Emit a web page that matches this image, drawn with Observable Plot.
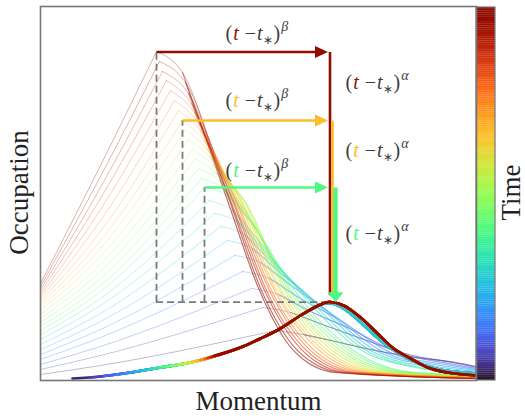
<!DOCTYPE html>
<html><head><meta charset="utf-8">
<script src="https://cdn.jsdelivr.net/npm/d3@7"></script>
<script src="https://cdn.jsdelivr.net/npm/@observablehq/plot@0.6"></script>
<style>body{margin:0;background:#fff;}</style>
</head><body><div id="chart"></div>
<script>
// time of each curve (0 = earliest, 1 = latest); index 0 is the latest curve
const times = [0.99,0.94,0.89,0.85,0.80,0.75,0.71,0.66,0.62,0.58,0.55,0.51,0.47,0.44,0.40,0.36,0.32,0.28,0.24,0.20,0.16,0.12,0.07,0.03];

// raw occupation curves [momentum, occupation], one list per time (same order as times)
const paleCurves = [
  [[0,0.97],[0.6,2.15],[1.16,3.29],[1.42,3.08],[1.87,1.80],[2.19,0.90],[2.53,0.30],[2.95,0.08],[4.36,0.02]],
  [[0,0.94],[0.6,2.04],[1.19,3.19],[1.45,2.98],[1.89,1.80],[2.21,0.90],[2.57,0.30],[3.01,0.08],[4.36,0.02]],
  [[0,0.91],[0.6,1.93],[1.22,3.09],[1.48,2.87],[1.90,1.80],[2.24,0.90],[2.62,0.30],[3.06,0.08],[4.36,0.02]],
  [[0,0.88],[0.6,1.82],[1.26,3.00],[1.51,2.77],[1.92,1.80],[2.26,0.90],[2.66,0.30],[3.12,0.08],[4.36,0.02]],
  [[0,0.85],[0.6,1.71],[1.30,2.90],[1.54,2.68],[1.93,1.80],[2.29,0.90],[2.70,0.30],[3.18,0.08],[4.36,0.03]],
  [[0,0.82],[0.6,1.60],[1.34,2.80],[1.57,2.59],[1.95,1.80],[2.31,0.90],[2.74,0.30],[3.24,0.08],[4.36,0.03]],
  [[0,0.79],[0.6,1.49],[1.38,2.70],[1.60,2.50],[1.96,1.80],[2.34,0.90],[2.79,0.30],[3.29,0.08],[4.36,0.03]],
  [[0,0.76],[0.6,1.40],[1.42,2.60],[1.63,2.41],[1.98,1.80],[2.36,0.90],[2.83,0.30],[3.35,0.08],[4.36,0.03]],
  [[0,0.73],[0.6,1.32],[1.45,2.51],[1.66,2.32],[2.00,1.80],[2.39,0.90],[2.87,0.30],[3.41,0.08],[4.36,0.04]],
  [[0,0.70],[0.6,1.24],[1.48,2.41],[1.69,2.24],[2.01,1.80],[2.41,0.90],[2.92,0.30],[3.46,0.08],[4.36,0.04]],
  [[0,0.66],[0.6,1.16],[1.52,2.31],[1.72,2.16],[2.03,1.80],[2.44,0.90],[2.96,0.30],[3.52,0.08],[4.36,0.04]],
  [[0,0.62],[0.6,1.09],[1.55,2.22],[1.75,2.08],[2.04,1.80],[2.46,0.90],[3.00,0.30],[3.58,0.08],[4.36,0.04]],
  [[0,0.58],[0.6,1.02],[1.58,2.12],[1.79,2.00],[2.06,1.68],[2.49,0.90],[3.04,0.30],[3.64,0.08],[4.36,0.05]],
  [[0,0.54],[0.6,0.95],[1.61,2.02],[1.83,1.92],[2.10,1.60],[2.51,0.90],[3.09,0.30],[3.69,0.08],[4.36,0.05]],
  [[0,0.50],[0.6,0.89],[1.64,1.93],[1.88,1.84],[2.15,1.52],[2.54,0.90],[3.13,0.30],[3.75,0.08],[4.36,0.06]],
  [[0,0.46],[0.6,0.82],[1.69,1.80],[1.92,1.70],[2.22,1.35],[2.60,0.88],[3.18,0.32],[3.80,0.12],[4.36,0.06]],
  [[0,0.41],[0.6,0.75],[1.74,1.67],[1.98,1.58],[2.28,1.25],[2.66,0.84],[3.24,0.31],[3.85,0.12],[4.36,0.07]],
  [[0,0.36],[0.6,0.67],[1.80,1.54],[2.04,1.46],[2.35,1.15],[2.73,0.80],[3.30,0.30],[3.90,0.13],[4.36,0.08]],
  [[0,0.31],[0.6,0.59],[1.87,1.40],[2.12,1.32],[2.43,1.05],[2.80,0.75],[3.37,0.29],[3.96,0.14],[4.36,0.09]],
  [[0,0.26],[0.6,0.51],[1.94,1.25],[2.20,1.18],[2.52,0.94],[2.88,0.69],[3.44,0.28],[4.00,0.15],[4.36,0.10]],
  [[0,0.21],[0.6,0.43],[2.02,1.09],[2.29,1.02],[2.60,0.82],[2.97,0.62],[3.52,0.27],[4.05,0.16],[4.36,0.11]],
  [[0,0.16],[0.6,0.34],[2.11,0.92],[2.38,0.86],[2.70,0.69],[3.07,0.53],[3.60,0.27],[4.08,0.17],[4.36,0.12]],
  [[0,0.11],[0.6,0.25],[2.22,0.73],[2.50,0.68],[2.82,0.56],[3.18,0.43],[3.68,0.26],[4.12,0.18],[4.36,0.13]],
  [[0,0.06],[0.6,0.15],[2.35,0.50],[2.63,0.46],[2.95,0.39],[3.30,0.31],[3.75,0.23],[4.15,0.18],[4.36,0.14]]
];

// rescaled (collapsed) curve for late times and for early times
const collapseShapeLate = [[0.32,0.02],[0.6,0.04],[0.9,0.08],[1.2,0.13],[1.5,0.18],[1.73,0.24],[2.0,0.33],[2.2,0.42],[2.4,0.52],[2.6,0.65],[2.78,0.75],[2.88,0.785],[3.03,0.75],[3.2,0.63],[3.37,0.47],[3.53,0.32],[3.7,0.22],[3.87,0.13],[4.07,0.08],[4.36,0.05]];
const collapseShapeEarly = [[0.32,0.02],[0.6,0.04],[0.9,0.08],[1.2,0.13],[1.5,0.18],[1.73,0.24],[2.0,0.33],[2.2,0.42],[2.4,0.52],[2.6,0.65],[2.78,0.75],[2.88,0.775],[3.0,0.74],[3.16,0.62],[3.32,0.47],[3.49,0.33],[3.66,0.23],[3.84,0.15],[4.04,0.10],[4.36,0.07]];
// where each rescaled curve begins (same order as times)
const collapseStartM = [1.75,1.73,1.70,1.67,1.64,1.61,1.58,1.54,1.50,1.46,1.42,1.38,1.33,1.28,1.22,1.16,1.10,1.03,0.95,0.86,0.76,0.64,0.50,0.32];
const collapseStartO = [0.25,0.245,0.235,0.225,0.215,0.205,0.20,0.19,0.18,0.175,0.165,0.16,0.15,0.145,0.135,0.125,0.115,0.10,0.09,0.07,0.055,0.045,0.03,0.02];

// three highlighted times and their peaks
const markedTimes = [0.98, 0.66, 0.40];
const markedPeakM = [1.16, 1.42, 1.64];
const markedPeakO = [3.285, 2.60, 1.93];
const collapsedPeakM = 2.88;
const collapsedPeakO = 0.783;
const verticalArrowM = [2.895, 2.92, 2.95];
const betaLabelO = [3.47, 2.80, 2.10];
const alphaLabelO = [2.98, 2.30, 1.47];
const betaLabelM = 1.85;
const alphaLabelM = 3.05;
const axisTitles = {x: "Momentum", y: "Occupation", color: "Time"};

// tables: rising part (up to the peak), falling part (from the peak), bundle part (after the peak)
const riseRows = [], fallRows = [], tailRows = [];
for (let k = times.length - 1; k >= 0; --k) paleCurves[k].forEach(([m, o], j) => {
  const row = {k, time: times[k], m, o};
  if (j <= 2) riseRows.push(row);
  if (j >= 2) fallRows.push(row);
  if (j >= 3) tailRows.push(row);
});
const collapseRows = [];
for (let k = times.length - 1; k >= 0; --k) {
  const shape = times[k] < 0.3 ? collapseShapeEarly : collapseShapeLate;
  collapseRows.push({k, time: times[k], m: collapseStartM[k], o: collapseStartO[k]});
  shape.forEach(([m, o]) => { if (m > collapseStartM[k] + 0.02) collapseRows.push({k, time: times[k], m, o}); });
}
const marked = markedTimes.map((time, i) => ({time, i, pm: markedPeakM[i], po: markedPeakO[i], vm: verticalArrowM[i], bo: betaLabelO[i], ao: alphaLabelO[i]}));
const barSteps = d3.range(0, 1, 0.005);
const yTop = 3.73;

const plot = Plot.plot({
  width: 525, height: 418,
  marginLeft: 40, marginRight: 49, marginTop: 6, marginBottom: 38,
  x: {domain: [0, 4.36], axis: null},
  y: {domain: [0, 3.74], axis: null},
  color: {type: "linear", scheme: "turbo", domain: [0, 1]},
  style: {fontFamily: "Liberation Serif", background: "white"},
  marks: [
    Plot.line(riseRows, {x: "m", y: "o", z: "k", stroke: "time", strokeWidth: 1, strokeOpacity: 0.32, curve: "monotone-x"}),
    Plot.line(fallRows, {x: "m", y: "o", z: "k", stroke: "time", strokeWidth: 1, strokeOpacity: 0.32, curve: "monotone-x"}),
    Plot.line(tailRows, {x: "m", y: "o", z: "k", stroke: "time", strokeWidth: 1.2, strokeOpacity: 0.42, curve: "monotone-x"}),
    Plot.ruleX(marked, {x: "pm", y1: collapsedPeakO, y2: "po", stroke: "#7a7a7a", strokeWidth: 1.8, strokeDasharray: "7,4"}),
    Plot.ruleY([collapsedPeakO], {x1: markedPeakM[0], x2: collapsedPeakM - 0.04, stroke: "#7a7a7a", strokeWidth: 1.8, strokeDasharray: "7,4"}),
    Plot.line(collapseRows, {x: "m", y: "o", z: "k", stroke: "time", strokeWidth: 2.6, curve: "catmull-rom"}),
    Plot.link(marked, {x1: "pm", x2: collapsedPeakM - 0.1, y1: "po", y2: "po", stroke: "time", strokeWidth: 2.6}),
    Plot.vector(marked, {x: collapsedPeakM - 0.005, y: "po", rotate: 90, length: 13, r: 6, shape: "spike", anchor: "end", fill: "time", stroke: "none"}),
    Plot.link(marked, {x1: "vm", x2: "vm", y1: "po", y2: collapsedPeakO + 0.07, stroke: "time", strokeWidth: d => d.i === 2 ? 4.2 : 2.6}),
    Plot.vector(marked.filter(d => d.i === 2), {x: "vm", y: collapsedPeakO, rotate: 180, length: 10, r: 8, shape: "spike", anchor: "end", fill: "time", stroke: "none"}),
    Plot.text(marked, {x: betaLabelM, y: "bo", text: d => "(t −t∗)β", textAnchor: "start", fontSize: 20, fill: "#3c3c3c"}),
    Plot.text(marked, {x: alphaLabelM, y: "ao", text: d => "(t −t∗)α", textAnchor: "start", fontSize: 20, fill: "#3c3c3c"}),
    Plot.rect(barSteps, {x1: 4.36, x2: 4.55, y1: d => d * yTop, y2: d => Math.min(yTop, (d + 0.0055) * yTop), fill: d => d + 0.0025}),
    Plot.rect([0], {x1: 4.36, x2: 4.55, y1: 0, y2: yTop, stroke: "#777", strokeWidth: 1.2, fill: "none"}),
    Plot.text([axisTitles.x], {x: 2.18, y: -0.21, text: d => d, fontSize: 27, fill: "#222"}),
    Plot.text([axisTitles.y], {x: -0.21, y: 1.88, text: d => d, rotate: -90, fontSize: 27, fill: "#222"}),
    Plot.text([axisTitles.color], {x: 4.71, y: 1.88, text: d => d, rotate: -90, fontSize: 27, fill: "#222"}),
    Plot.frame({stroke: "#777", strokeWidth: 1.6})
  ]
});

// typeset the scaling labels with coloured t, subscript and exponent
const tColor = t => d3.interpolateTurbo(t);
const svg = d3.select(plot);
["β", "α"].forEach(exp => {
  const nodes = svg.selectAll("text").filter(function() { return this.textContent === "(t −t∗)" + exp; }).nodes();
  nodes.forEach((node, i) => {
    const sel = d3.select(node);
    sel.text(null);
    sel.append("tspan").text("(");
    sel.append("tspan").attr("fill", tColor(markedTimes[i])).attr("font-style", "italic").attr("dx", 1).text("t");
    sel.append("tspan").attr("dx", 6).text("−");
    sel.append("tspan").attr("font-style", "italic").attr("dx", 1).text("t");
    sel.append("tspan").attr("font-size", 12).attr("dy", 4).text("∗");
    sel.append("tspan").attr("dy", -4).attr("dx", 1).text(")");
    sel.append("tspan").attr("font-size", 14).attr("font-style", "italic").attr("dy", -9).attr("dx", 1).text(exp);
  });
});
document.getElementById("chart").append(plot);
</script>
</body></html>
